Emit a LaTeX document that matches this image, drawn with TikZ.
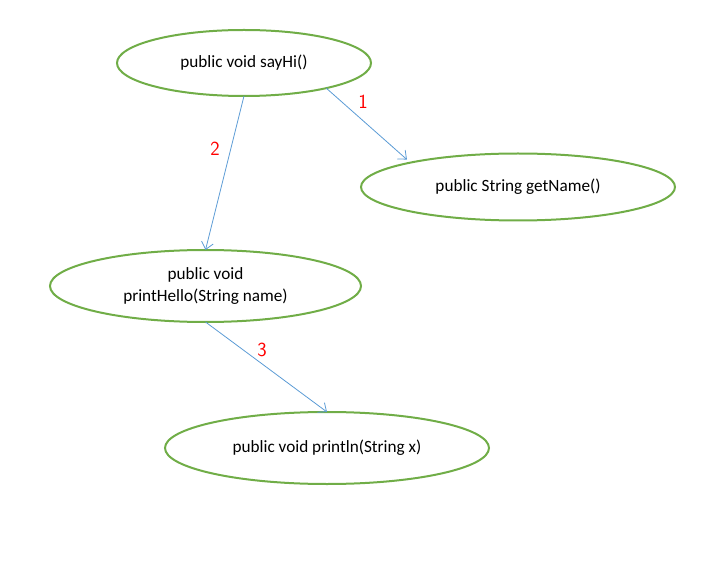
\documentclass[tikz,border=0pt]{standalone}
\usepackage{fontspec}
\setmainfont{Carlito}
\usetikzlibrary{shapes.geometric,arrows.meta}
\definecolor{ovalgreen}{HTML}{70AD47}
\definecolor{arrowblue}{HTML}{5B9BD5}
\begin{document}
\begin{tikzpicture}[x=1pt,y=-1pt,
  oval/.style={ellipse,draw=ovalgreen,line width=2pt,inner sep=0pt,outer sep=0pt,align=center,font=\fontsize{17.2}{22}\selectfont},
  conn/.style={draw=arrowblue,line width=0.8pt,-{Straight Barb[length=7pt,width=12pt]}},
  num/.style={text=red,font=\sffamily\fontsize{20}{20}\selectfont}]
\useasboundingbox (0,0) rectangle (717,569);
\node[oval,minimum width=254pt,minimum height=66pt] (sayhi) at (244,63) {public void sayHi()};
\node[oval,minimum width=314pt,minimum height=67pt] (getname) at (518,187) {public String getName()};
\node[oval,minimum width=311pt,minimum height=72pt] (hello) at (205.5,286) {public void\\printHello(String name)};
\node[oval,minimum width=324pt,minimum height=72pt] (println) at (327,448) {public void println(String x)};
\draw[conn] (sayhi.-17.4) -- ([shift={(-9,-2)}]getname.166);
\draw[conn] (sayhi.south) -- (hello.north);
\draw[conn] (hello.south) -- (println.north);
\node[num] (n1) at (363,102) {1};
\node[num] (n2) at (215,149) {2};
\node[num] (n3) at (262,350) {3};
\end{tikzpicture}
\end{document}
